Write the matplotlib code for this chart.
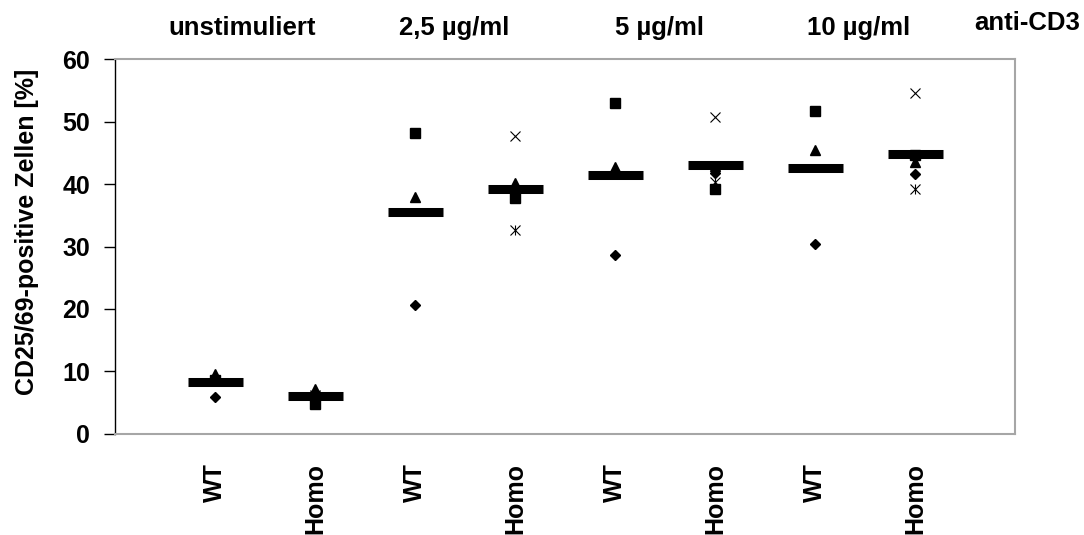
import numpy as np
import matplotlib.pyplot as plt

plt.rcParams['font.family'] = ['Liberation Sans', 'DejaVu Sans']
plt.rcParams['font.weight'] = 'bold'
plt.rcParams['axes.labelweight'] = 'bold'

# groups along x: WT / Homo for each stimulation
groups = ['WT', 'Homo', 'WT', 'Homo', 'WT', 'Homo', 'WT', 'Homo']
stim_labels = ['unstimuliert', '2,5 µg/ml', '5 µg/ml', '10 µg/ml']
stim_label_x = [1.27, 3.39, 5.44, 7.44]

# individual animals (nan = not present)
nan = np.nan
diamond = [5.95, 6.0, 20.7, 37.8, 28.6, 41.7, 30.4, 41.6]
square = [8.6, 4.8, 48.1, 37.7, 53.0, 39.2, 51.7, 44.7]
triangle = [9.6, 7.2, 38.0, 40.1, 42.8, 42.9, 45.4, 43.6]
cross = [nan, 6.2, nan, 47.7, nan, 50.8, nan, 54.6]
star = [nan, 6.05, nan, 32.7, nan, 40.4, nan, 39.2]
means = [8.35, 6.05, 35.6, 39.2, 41.5, 43.0, 42.5, 44.8]

x = np.arange(1, len(groups) + 1)

fig = plt.figure(figsize=(10.84, 5.35), dpi=100)
ax = fig.add_axes([0.1061, 0.1888, 0.8303, 0.7009])

ax.plot(x, diamond, 'D', color='black', markersize=5.6, linestyle='none')
ax.plot(x, square, 's', color='black', markersize=6.7, linestyle='none')
ax.plot(x, triangle, '^', color='black', markersize=7.5, linestyle='none')
ax.plot(x, cross, 'x', color='black', markersize=7.3, mew=0.8, linestyle='none')
ax.plot(x, star, 'x', color='black', markersize=6.8, mew=0.8, linestyle='none')
ax.plot(x, star, '|', color='black', markersize=7.0, mew=0.8, linestyle='none')

ax.hlines(means, x - 0.275, x + 0.275, color='black', linewidth=6.5,
          capstyle='butt', zorder=5)

ax.set_xlim(0, 9)
ax.set_ylim(0, 60)
ax.set_yticks(np.arange(0, 61, 10))
ax.set_xticks(x)
ax.set_xticklabels(groups, rotation=90, va='top', fontsize=18)
ax.tick_params(axis='x', length=0, pad=21)
ax.tick_params(axis='y', direction='out', length=8, width=1, pad=10,
               labelsize=18)

for side in ['top', 'right', 'bottom']:
    ax.spines[side].set_color('#a6a6a6')
    ax.spines[side].set_linewidth(1.5)
ax.spines['left'].set_color('black')
ax.spines['left'].set_linewidth(1)

ax.set_ylabel('CD25/69-positive Zellen [%]', fontsize=18)
ax.yaxis.set_label_coords(-0.085, 0.54)

trans = ax.get_xaxis_transform()
for lx, lab in zip(stim_label_x, stim_labels):
    ax.text(lx, 1.083, lab, transform=trans, ha='center', va='center',
            fontsize=18.5)
ax.text(9.12, 1.096, 'anti-CD3', transform=trans, ha='center', va='center',
        fontsize=18.5, clip_on=False)

fig.savefig('out.png', dpi=100)
